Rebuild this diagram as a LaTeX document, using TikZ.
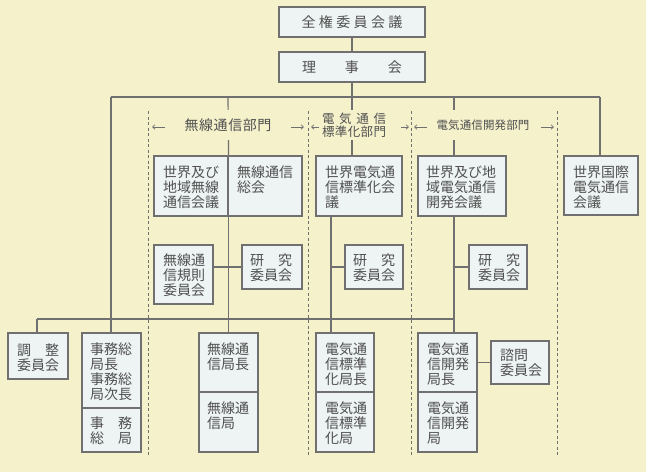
\documentclass[tikz,border=0pt]{standalone}
\usepackage{fontspec}
\setmainfont{Noto Sans CJK JP}
\usetikzlibrary{arrows.meta,calc}
\definecolor{bg}{HTML}{F4F1CB}
\definecolor{boxfill}{HTML}{EEF3F3}
\definecolor{ln}{HTML}{707070}
\definecolor{tx}{HTML}{505050}
\begin{document}
\begin{tikzpicture}[x=1pt,y=-1pt,
  box/.style={draw=ln, line width=1.2pt, fill=boxfill, inner sep=0pt, text=tx, font=\fontsize{14}{15}\selectfont},
  txt/.style={inner sep=0pt, align=left, anchor=north west, text=tx, font=\fontsize{14}{15}\selectfont},
  hdr/.style={inner xsep=2pt, inner ysep=0pt, minimum height=30pt, fill=bg, text=tx, align=center},
  conn/.style={draw=ln, line width=1.2pt},
  zone/.style={draw=ln, line width=0.7pt, dash pattern=on 3pt off 2.5pt},
  zarrow/.style={draw=ln, line width=0.7pt, -{Straight Barb[length=2.5pt,width=4.5pt]}}]

\fill[bg] (0,0) rectangle (646,472);
\useasboundingbox (0,0) rectangle (646,472);

% zone separators
\foreach \i/\x in {1/148,2/308,3/411,4/557}{
  \coordinate (zt\i) at (\x,111);
  \coordinate (zb\i) at (\x,457);
  \draw[zone] (zt\i) -- (zb\i);
}

% boxes
\node[box, minimum width=146pt, minimum height=30pt] (zk) at (352,22)
  {\makebox[101pt][s]{全\hfill 権\hfill 委\hfill 員\hfill 会\hfill 議}};
\node[box, minimum width=146pt, minimum height=30pt] (rj) at (352,67)
  {\makebox[100pt][s]{理\hfill 事\hfill 会}};

\node[box, minimum width=74pt, minimum height=60pt] (A1) at (191,186) {};
\node[box, minimum width=74pt, minimum height=60pt] (A2) at (265,186) {};
\node[box, minimum width=86pt, minimum height=60pt] (B) at (359,186) {};
\node[box, minimum width=88pt, minimum height=60pt] (C) at (462,186) {};
\node[box, minimum width=74pt, minimum height=59pt] (D) at (601,185.5) {};

\node[box, minimum width=59pt, minimum height=59pt] (E) at (183.5,274.5) {};
\node[box, minimum width=60pt, minimum height=44pt] (F) at (272,267) {};
\node[box, minimum width=58pt, minimum height=44pt] (G) at (374,267) {};
\node[box, minimum width=58pt, minimum height=44pt] (H) at (498,267) {};

\node[box, minimum width=60pt, minimum height=46pt] (I) at (38,356) {};
\node[box, minimum width=59pt, minimum height=75pt] (Jt) at (111.5,370.5) {};
\node[box, minimum width=59pt, minimum height=44pt] (Jb) at (111.5,430) {};
\node[box, minimum width=59pt, minimum height=59pt] (Kt) at (228.5,362.5) {};
\node[box, minimum width=59pt, minimum height=60pt] (Kb) at (228.5,422) {};
\node[box, minimum width=58pt, minimum height=59pt] (Lt) at (345,362.5) {};
\node[box, minimum width=58pt, minimum height=60pt] (Lb) at (345,422) {};
\node[box, minimum width=59pt, minimum height=59pt] (Mt) at (447.5,362.5) {};
\node[box, minimum width=59pt, minimum height=60pt] (Mb) at (447.5,422) {};
\node[box, minimum width=58pt, minimum height=43pt] (N) at (520,362.5) {};

% connectors
\coordinate (hL) at (111,97);
\coordinate (hR) at (600,97);
\coordinate (h2) at (228,97);
\coordinate (h4) at (454,97);
\coordinate (bL) at (37,319);
\coordinate (bR) at (454,319);
\coordinate (bB) at (331,319);

\draw[conn] (zk.south) -- (rj.north);
\draw[conn] (rj.south) -- (rj.south |- B.north);
\draw[conn] (hL) -- (hR);
\draw[conn] (hL) -- (hL |- Jt.north);
\draw[conn] (h2) -- (A1.north east);
\draw[conn] (A1.south east) -- (A1.south east |- Kt.north);
\draw[conn] (h4) -- (h4 |- C.north);
\draw[conn] (h4 |- C.south) -- (h4 |- Mt.north);
\draw[conn] (hR) -- (hR |- D.north);
\draw[conn] (bL) -- (bR);
\draw[conn] (bL) -- (bL |- I.north);
\draw[conn] (bB |- B.south) -- (bB |- Lt.north);
\draw[conn] (F.west) -- (F.west -| E.east);
\draw[conn] (G.west) -- (G.west -| bB);
\draw[conn] (H.west) -- (H.west -| bR);
\draw[conn] (N.west) -- (N.west -| Mt.east);

% box texts
\node[txt] (A1t) at (163,165.5) {世界及び\\地域無線\\通信会議};
\node[txt] (A2t) at (237,165.5) {無線通信\\総会};
\node[txt] (Bt) at (325,165.5) {世界電気通\\信標準化会\\議};
\node[txt] (Ct) at (426,165.5) {世界及び地\\域電気通信\\開発会議};
\node[txt] (Dt) at (573,165.5) {世界国際\\電気通信\\会議};
\node[txt] (Et) at (163,253.5) {無線通\\信規則\\委員会};
\node[txt] (Ft) at (250,253.5) {\makebox[42pt][s]{研\hfill 究}\\委員会};
\node[txt] (Gt) at (353,253.5) {\makebox[42pt][s]{研\hfill 究}\\委員会};
\node[txt] (Ht) at (478,253.5) {\makebox[42pt][s]{研\hfill 究}\\委員会};
\node[txt] (It) at (17,343.5) {\makebox[42pt][s]{調\hfill 整}\\委員会};
\node[txt] (Jtt) at (90,342.5) {事務総\\局長\\事務総\\局次長};
\node[txt] (Jbt) at (90,416.5) {\makebox[42pt][s]{事\hfill 務}\\\makebox[42pt][s]{総\hfill 局}};
\node[txt] (Ktt) at (207,342.5) {無線通\\信局長};
\node[txt] (Kbt) at (207,401.5) {無線通\\信局};
\node[txt] (Ltt) at (325,342.5) {電気通\\信標準\\化局長};
\node[txt] (Lbt) at (325,401.5) {電気通\\信標準\\化局};
\node[txt] (Mtt) at (427,342.5) {電気通\\信開発\\局長};
\node[txt] (Mbt) at (427,401.5) {電気通\\信開発\\局};
\node[txt] (Nt) at (500,348.5) {諮問\\委員会};

% sector headers
\node[hdr, font=\fontsize{14}{15}\selectfont] (s1) at (228,125)
  {\makebox[87pt][s]{無\hfill 線\hfill 通\hfill 信\hfill 部\hfill 門}};
\node[hdr, font=\fontsize{12.5}{13}\selectfont] (s2) at (354,125)
  {\makebox[64pt][s]{電\hfill 気\hfill 通\hfill 信}\\\makebox[64pt][s]{標\hfill 準\hfill 化\hfill 部\hfill 門}};
\node[hdr, font=\fontsize{11.5}{13}\selectfont] (s3) at (483,125)
  {\makebox[93pt][s]{電\hfill 気\hfill 通\hfill 信\hfill 開\hfill 発\hfill 部\hfill 門}};

% sector extent arrows
\coordinate (a1s) at (165,127); \coordinate (a1e) at (152,127);
\coordinate (a2s) at (291,127); \coordinate (a2e) at (304,127);
\coordinate (a3s) at (319,127); \coordinate (a3e) at (311,127);
\coordinate (a4s) at (401,127); \coordinate (a4e) at (409,127);
\coordinate (a5s) at (427,127); \coordinate (a5e) at (414,127);
\coordinate (a6s) at (541,127); \coordinate (a6e) at (554,127);
\foreach \k in {1,...,6}{\draw[zarrow] (a\k s) -- (a\k e);}
\end{tikzpicture}
\end{document}
